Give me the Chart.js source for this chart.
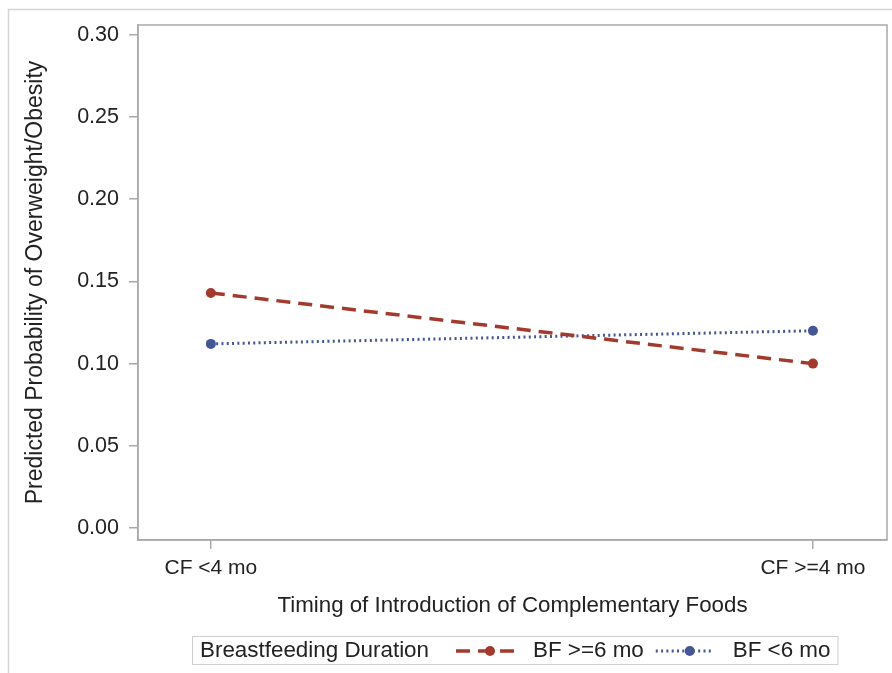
<!DOCTYPE html>
<html>
<head>
<meta charset="utf-8">
<script src="https://cdn.jsdelivr.net/npm/chart.js@4"></script>
<style>
  html, body { margin: 0; padding: 0; background: #fff; }
  #wrap { width: 892px; height: 673px; }
</style>
</head>
<body>
<div id="wrap"><canvas id="myChart" width="892" height="673"></canvas></div>
<script>
// categorias e valores
var categories = ['CF <4 mo', 'CF >=4 mo'];
var bfLong = [0.143, 0.100];   // BF >=6 mo
var bfShort = [0.112, 0.120];  // BF <6 mo
var yTicks = [0, 0.05, 0.10, 0.15, 0.20, 0.25, 0.30];
var seriesNames = ['BF >=6 mo', 'BF <6 mo'];
var legendTitle = 'Breastfeeding Duration';

var FONT = '"Liberation Sans", Arial, sans-serif';
var textColor = '#222';
var axisGrey = '#a9a9a9';

function toPoints(values) {
  return values.map(function (v, i) { return { x: i, y: v }; });
}

// moldura externa (só topo e esquerda aparecem)
var outerFrame = {
  id: 'outerFrame',
  beforeDraw: function (chart) {
    var ctx = chart.ctx;
    ctx.save();
    ctx.strokeStyle = '#d4d4d4';
    ctx.lineWidth = 1.5;
    ctx.beginPath();
    ctx.moveTo(8.5, 673);
    ctx.lineTo(8.5, 9.5);
    ctx.lineTo(892, 9.5);
    ctx.stroke();
    ctx.restore();
  }
};

// borda completa da área do gráfico
var plotBorder = {
  id: 'plotBorder',
  afterDatasetsDraw: function (chart) {
    var a = chart.chartArea;
    var ctx = chart.ctx;
    ctx.save();
    ctx.strokeStyle = axisGrey;
    ctx.lineWidth = 1.5;
    ctx.strokeRect(a.left, a.top, a.right - a.left, a.bottom - a.top);
    ctx.restore();
  }
};

// legenda com caixa e título à esquerda
var legendBox = {
  id: 'legendBox',
  afterDraw: function (chart) {
    var ctx = chart.ctx;
    var yMid = 651;
    ctx.save();
    ctx.font = '22.4px ' + FONT;
    ctx.fillStyle = textColor;
    ctx.textBaseline = 'middle';
    var x = 200;
    ctx.fillText(legendTitle, x, yMid);
    x += ctx.measureText(legendTitle).width + 27;
    var textEnd = x;
    chart.data.datasets.forEach(function (ds) {
      ctx.save();
      ctx.strokeStyle = ds.borderColor;
      ctx.lineWidth = ds.borderWidth;
      ctx.setLineDash(ds.borderDash || []);
      ctx.beginPath();
      ctx.moveTo(x, yMid);
      ctx.lineTo(x + 58, yMid);
      ctx.stroke();
      ctx.setLineDash([]);
      ctx.fillStyle = ds.pointBackgroundColor;
      ctx.beginPath();
      ctx.arc(x + 34, yMid, ds.pointRadius, 0, Math.PI * 2);
      ctx.fill();
      ctx.restore();
      x += 58 + 19;
      ctx.fillText(ds.label, x, yMid);
      textEnd = x + ctx.measureText(ds.label).width;
      x = textEnd + 12;
    });
    ctx.strokeStyle = '#cfcfcf';
    ctx.lineWidth = 1;
    ctx.strokeRect(192.5, 636.5, textEnd + 7 - 192, 28);
    ctx.restore();
  }
};

var ctx = document.getElementById('myChart').getContext('2d');

var myChart = new Chart(ctx, {
  type: 'line',
  data: {
    datasets: [{
      label: seriesNames[0],
      data: toPoints(bfLong),
      borderColor: '#A23A2E',
      backgroundColor: '#A23A2E',
      pointBackgroundColor: '#A23A2E',
      pointBorderWidth: 0,
      borderWidth: 3.5,
      borderDash: [14, 8],
      pointRadius: 5
    }, {
      label: seriesNames[1],
      data: toPoints(bfShort),
      borderColor: '#445694',
      backgroundColor: '#445694',
      pointBackgroundColor: '#445694',
      pointBorderWidth: 0,
      borderWidth: 3,
      borderDash: [2, 3.3],
      pointRadius: 5
    }]
  },
  options: {
    responsive: false,
    animation: false,
    layout: { padding: { left: 0, top: 25, right: 5, bottom: 48 } },
    plugins: {
      legend: { display: false },
      tooltip: { enabled: false }
    },
    scales: {
      x: {
        type: 'linear',
        min: -0.121,
        max: 1.123,
        afterBuildTicks: function (scale) {
          scale.ticks = categories.map(function (c, i) { return { value: i }; });
        },
        afterFit: function (scale) { scale.height = 85; },
        grid: { drawOnChartArea: false, drawTicks: true, tickLength: 9, color: axisGrey, lineWidth: 1.5 },
        border: { color: axisGrey, width: 1.5 },
        ticks: {
          padding: 7,
          maxRotation: 0,
          color: textColor,
          font: { family: FONT, size: 21 },
          callback: function (v) { return categories[v]; }
        },
        title: {
          display: true,
          text: 'Timing of Introduction of Complementary Foods',
          color: textColor,
          font: { family: FONT, size: 22.3 },
          padding: { top: 0, bottom: 6 }
        }
      },
      y: {
        min: -0.0073,
        max: 0.306,
        afterBuildTicks: function (scale) {
          scale.ticks = yTicks.map(function (v) { return { value: v }; });
        },
        afterFit: function (scale) { scale.width = 138; },
        grid: { drawOnChartArea: false, drawTicks: true, tickLength: 9, color: axisGrey, lineWidth: 1.5 },
        border: { color: axisGrey, width: 1.5 },
        ticks: {
          padding: 10,
          color: textColor,
          font: { family: FONT, size: 21.5 },
          callback: function (v) { return v.toFixed(2); }
        },
        title: {
          display: true,
          text: 'Predicted Probability of Overweight/Obesity',
          color: textColor,
          font: { family: FONT, size: 23 },
          padding: { top: 22, bottom: 0 }
        }
      }
    }
  },
  plugins: [outerFrame, plotBorder, legendBox]
});
</script>
</body>
</html>
